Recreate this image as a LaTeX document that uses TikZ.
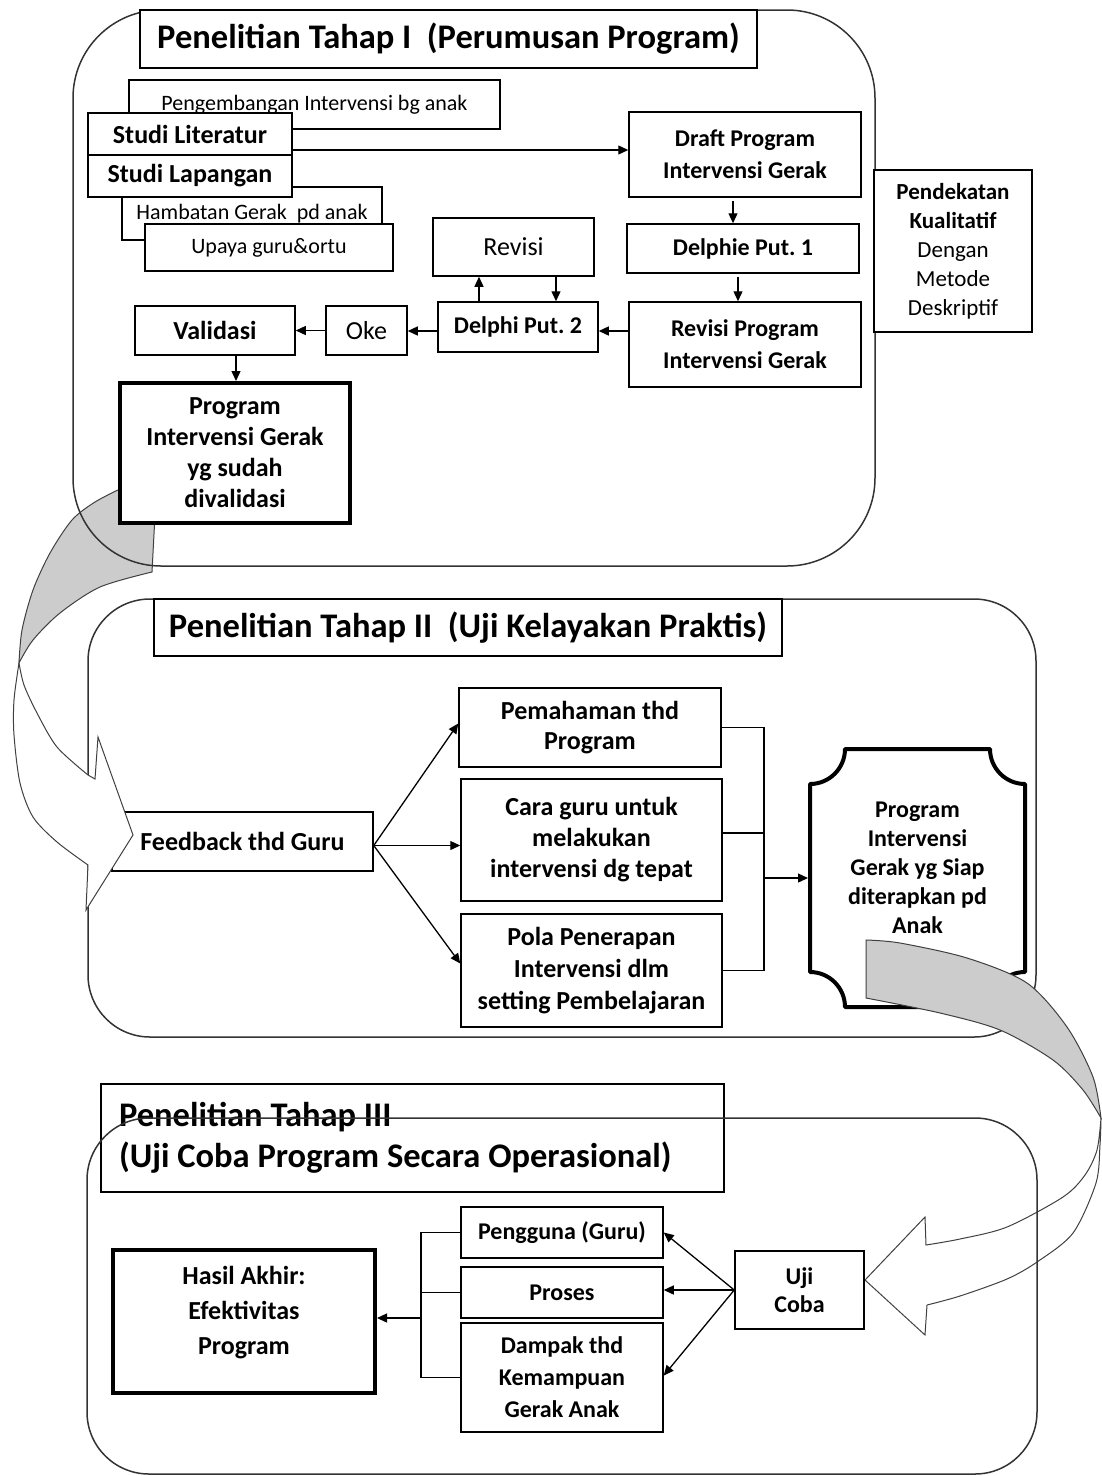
\documentclass[tikz,border=0pt]{standalone}
\usepackage{fontspec}
\setmainfont{Carlito}
\usetikzlibrary{arrows.meta,calc}
\newcommand\fbx{\fontsize{24}{32}\selectfont\bfseries}
\newcommand\fbxl{\fontsize{26}{32}\selectfont\bfseries}
\newcommand\frg{\fontsize{22}{29}\selectfont}
\newcommand\frgl{\fontsize{26}{29}\selectfont}
\newcommand\fttl{\fontsize{34.5}{41}\selectfont\bfseries}
\begin{document}
\frenchspacing
\begin{tikzpicture}[x=1pt,y=-1pt,
  box/.style={draw, line width=1.5pt, fill=white, inner sep=0pt, align=center, font=\fbx},
  rbox/.style={box, font=\frg},
  heavybox/.style={box, line width=4pt},
  stage/.style={draw=black!80, line width=1.5pt, rounded corners=#1, inner sep=0pt},
  ttlbox/.style={box, font=\fttl},
  arr/.style={line width=1.3pt, -{Triangle[length=10pt,width=9pt]}},
  ln/.style={line width=1.3pt},
  garrow/.style={fill=black!20, draw=black!75, line width=1pt},
  warrow/.style={fill=white, draw=black!75, line width=1pt},
]
\useasboundingbox (0,0) rectangle (1101,1476);

% ---------- curved arrow 1 (gray back part) ----------
\path[garrow] (155,515) -- (152,572)
  -- plot[smooth] coordinates {(152,572) (100,587) (60,613) (33,640) (19,663)}
  -- plot[smooth] coordinates {(19,663) (22,630) (33,590) (50,553) (72,520) (95,502) (122,488)} -- cycle;

% ---------- Stage I ----------
\node[stage=88, minimum width=802pt, minimum height=556pt] (stage1) at (474,288) {};
\node[ttlbox, minimum width=617pt, minimum height=58pt] (title1) at (448.5,39) {Penelitian Tahap I~~(Perumusan Program)};

\node[rbox, minimum width=371pt, minimum height=49pt] (peng) at (314.5,104.5) {Pengembangan Intervensi bg anak};
\node[rbox, minimum width=260pt, minimum height=53pt] (hamb) at (252,213.5) {Hambatan Gerak~~pd anak};
\node[rbox, minimum width=248pt, minimum height=47pt] (upaya) at (269,247.5) {Upaya guru\&ortu};
\node[box, minimum width=204pt, minimum height=42pt, font=\fbxl] (studiLit) at (190,134) {Studi Literatur};
\node[box, minimum width=204pt, minimum height=42pt, font=\fbxl] (studiLap) at (190,176) {Studi Lapangan};

\node[box, minimum width=232pt, minimum height=85pt] (draft) at (745,154.5) {Draft Program\\Intervensi Gerak};
\node[box, minimum width=232pt, minimum height=49pt] (del1) at (743,248.5) {Delphie Put. 1};
\node[box, minimum width=232pt, minimum height=85pt] (revprog) at (745,344.5) {Revisi Program\\Intervensi Gerak};
\node[rbox, minimum width=158pt, minimum height=162pt, font=\fontsize{23}{29}\selectfont] (pend) at (953,251)
  {\textbf{Pendekatan}\\\textbf{Kualitatif}\\Dengan\\Metode\\Deskriptif};
\node[rbox, minimum width=161pt, minimum height=58pt, font=\frgl] (revisi) at (513.5,247) {Revisi};
\node[box, minimum width=160pt, minimum height=50pt] (del2) at (518,327) {Delphi Put. 2};
\node[rbox, minimum width=81pt, minimum height=49pt, font=\frgl] (oke) at (366.5,330.5) {Oke};
\node[box, minimum width=160pt, minimum height=49pt, font=\fbxl] (valid) at (215,330.5) {Validasi};
\node[heavybox, minimum width=230pt, minimum height=140pt, font=\fontsize{26}{31}\selectfont\bfseries] (progval) at (235,453)
  {Program\\Intervensi Gerak\\yg sudah\\divalidasi};

\coordinate (a1) at ($(draft.west)+(0,-4.5)$);
\draw[arr] (studiLit.east |- a1) -- (a1);
\coordinate (a2) at ($(draft.south)+(-12,3)$);
\draw[arr] (a2) -- (a2 |- del1.north);
\coordinate (a3) at ($(del1.south)+(-5,3)$);
\draw[arr] (a3) -- (a3 |- revprog.north);
\coordinate (a4) at ($(revprog.west)+(0,-13.5)$);
\draw[arr] (a4) -- (a4 -| del2.east);
\coordinate (a5) at ($(del2.north)+(-39,0)$);
\draw[arr] (a5) -- (a5 |- revisi.south);
\coordinate (a6) at ($(revisi.south)+(42.5,0)$);
\draw[arr] (a6) -- (a6 |- del2.north);
\coordinate (a7) at ($(del2.west)+(0,4)$);
\draw[arr] (a7) -- (a7 -| oke.east);
\draw[arr] (oke.west) -- (valid.east);
\coordinate (a8) at ($(valid.south)+(21,0)$);
\draw[arr] (a8) -- (a8 |- progval.north);

% ---------- Stage II ----------
\node[stage=62, minimum width=948pt, minimum height=438pt] (stage2) at (562,818) {};
\node[ttlbox, minimum width=628pt, minimum height=57pt] (title2) at (468,627.5) {Penelitian Tahap II~~(Uji Kelayakan Praktis)};
\node[box, minimum width=261pt, minimum height=59pt, font=\fbxl] (feedback) at (242.5,841.5) {Feedback thd Guru};
\node[box, minimum width=262pt, minimum height=79pt, font=\fontsize{26}{30}\selectfont\bfseries] (pem) at (590,727.5) {Pemahaman thd\\Program};
\node[box, minimum width=261pt, minimum height=122pt, font=\fontsize{26}{31}\selectfont\bfseries] (cara) at (591.5,840) {Cara guru untuk\\melakukan\\intervensi dg tepat};
\node[box, minimum width=261pt, minimum height=113pt, font=\fontsize{26}{32}\selectfont\bfseries] (pola) at (591.5,970.5) {Pola Penerapan\\Intervensi dlm\\setting Pembelajaran};

% curved arrow 1 (white front part with head)
\path[warrow] (19,663)
  -- plot[smooth] coordinates {(19,663) (14,700) (14,735) (20,783) (33,817) (57,842) (88,865)}
  -- (86,910) -- (133,835) -- (98,737) -- (95,779) -- (88,775)
  -- plot[smooth] coordinates {(88,775) (57,747) (37,713) (24,685) (19,663)} -- cycle;

\coordinate (fbo) at ($(feedback.east)+(0,4)$);
\draw[arr] (fbo) -- ($(pem.west)+(0,-4)$);
\draw[arr] (fbo) -- (fbo -| cara.west);
\draw[arr] (fbo) -- ($(pola.west)+(0,-7)$);
\coordinate (br2) at (764,878);
\coordinate (c2) at ($(cara.east)+(0,-7)$);
\draw[ln] (pem.east) -- (pem.east -| br2) -- (pola.east -| br2) -- (pola.east);
\draw[ln] (c2) -- (c2 -| br2);

\node[inner sep=0pt, outer sep=2pt, minimum width=215pt, minimum height=258pt] (siap) at (917.5,878) {};
\draw[line width=4pt, fill=white, line join=round]
  (810,784) .. controls (829.3,784) and (845,768.3) .. (845,749)
  -- (990,749) .. controls (990,768.3) and (1005.7,784) .. (1025,784)
  -- (1025,972) .. controls (1005.7,972) and (990,987.7) .. (990,1007)
  -- (845,1007) .. controls (845,987.7) and (829.3,972) .. (810,972) -- cycle;
\node[align=center, font=\fontsize{24}{29}\selectfont\bfseries, inner sep=0pt] (siaptxt) at (917.5,868)
  {Program\\Intervensi\\Gerak yg Siap\\diterapkan pd\\Anak};
\draw[arr] (br2) -- (br2 -| siap.west);

% curved arrow 2 (gray back part)
\path[garrow] (866,940)
  -- plot[smooth] coordinates {(866,940) (900,943) (967,958) (1027,983) (1067,1027) (1093,1077) (1101,1118)}
  -- plot[smooth] coordinates {(1101,1118) (1083,1090) (1053,1060) (1000,1030) (940,1013) (866,998)} -- cycle;

% ---------- Stage III ----------
\node[ttlbox, minimum width=623pt, minimum height=108pt, text width=587pt, align=flush left] (title3) at (412.5,1138)
  {Penelitian Tahap III\\(Uji Coba Program Secara Operasional)};

% curved arrow 2 (white front part with head)
\path[warrow] (1101,1118)
  -- plot[smooth] coordinates {(1101,1118) (1100,1145) (1096,1183) (1073,1233) (1037,1262) (1007,1279) (960,1296) (927,1305)}
  -- (925,1335) -- (865,1280) -- (925,1217) -- (926,1245)
  -- plot[smooth] coordinates {(926,1245) (960,1239) (1007,1227) (1063,1197) (1085,1175) (1097,1150) (1101,1118)} -- cycle;

\node[stage=62, minimum width=950pt, minimum height=356pt] (stage3) at (562,1296) {};

\node[box, minimum width=129pt, minimum height=78pt, font=\fontsize{24}{28}\selectfont\bfseries] (uji) at (799.5,1290) {Uji\\Coba};
\node[box, minimum width=202pt, minimum height=51pt] (pengguna) at (562,1232.5) {Pengguna (Guru)};
\node[box, minimum width=202pt, minimum height=51pt] (proses) at (562,1292.5) {Proses};
\node[box, minimum width=202pt, minimum height=109pt] (dampak) at (562,1377.5) {Dampak thd\\Kemampuan\\Gerak Anak};
\node[heavybox, minimum width=262pt, minimum height=143pt] (hasil) at (244,1321.5) {};
\node[align=center, font=\fontsize{26}{35}\selectfont\bfseries, inner sep=0pt] (hasiltxt) at (244,1312.5)
  {Hasil Akhir:\\Efektivitas\\Program};

\draw[arr] (uji.west) -- (pengguna.east);
\draw[arr] (uji.west) -- (uji.west -| proses.east);
\draw[arr] (uji.west) -- ($(dampak.east)+(0,-2)$);
\coordinate (br3) at (421,1318);
\draw[ln] (pengguna.west) -- (pengguna.west -| br3) -- (dampak.west -| br3) -- (dampak.west);
\draw[ln] (proses.west) -- (proses.west -| br3);
\draw[arr] (br3) -- (br3 -| hasil.east);
\end{tikzpicture}
\end{document}
